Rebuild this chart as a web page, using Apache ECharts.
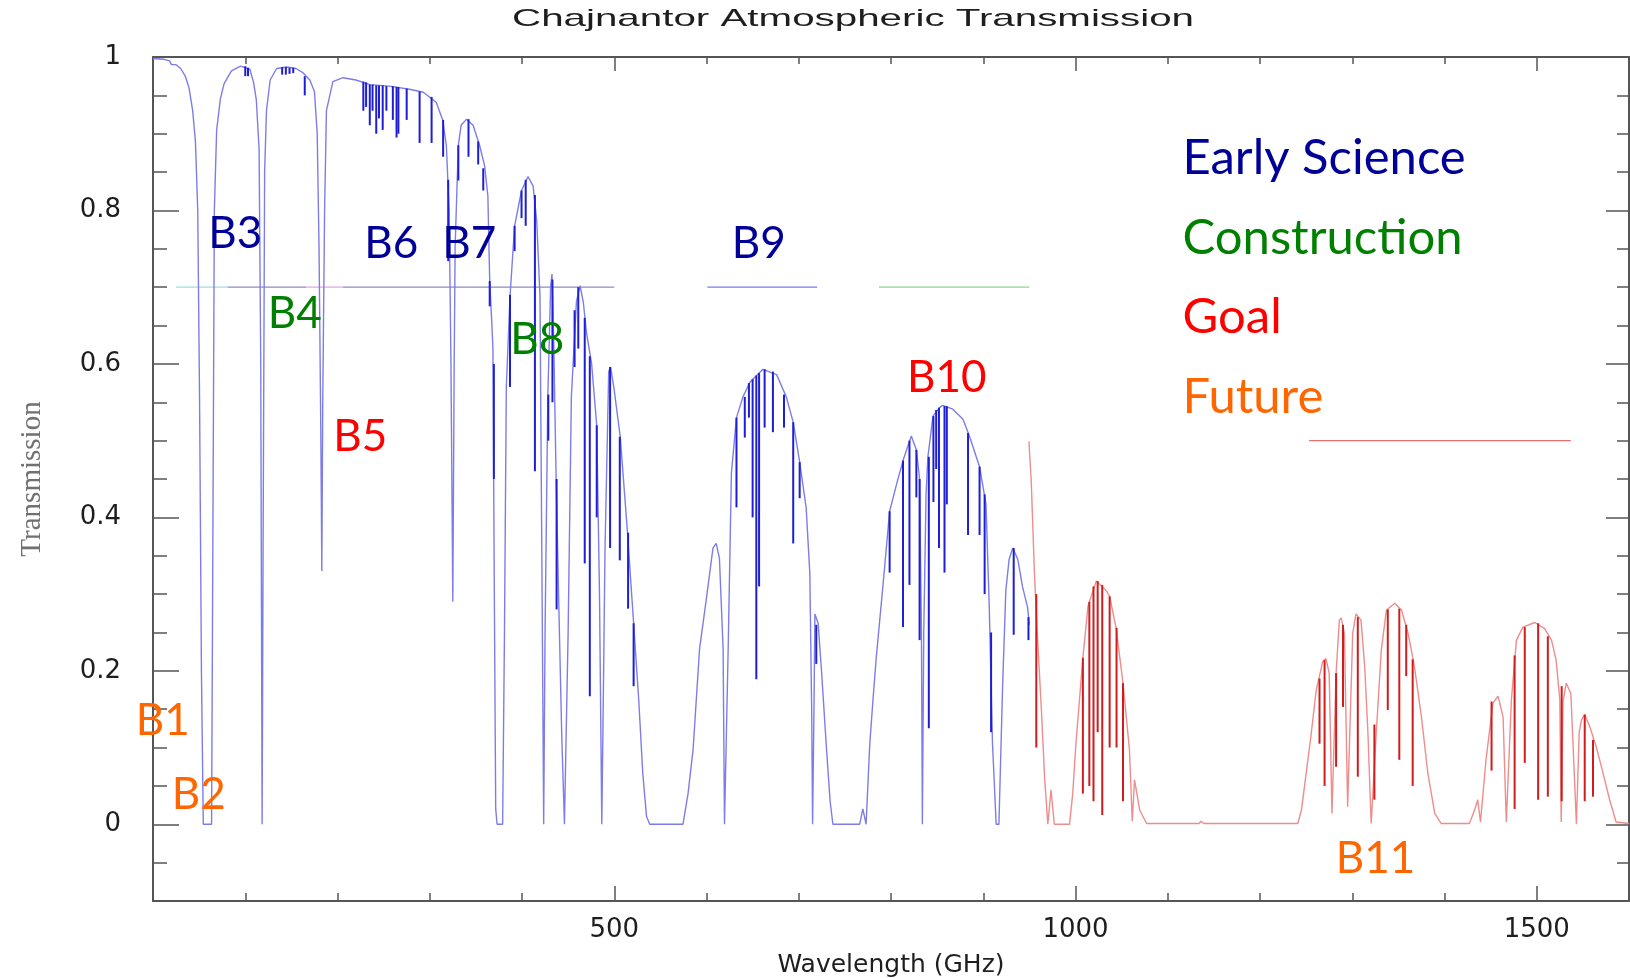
<!DOCTYPE html>
<html>
<head>
<meta charset="utf-8">
<script src="https://cdn.jsdelivr.net/npm/echarts@6/dist/echarts.min.js"></script>
<style>
html,body{margin:0;padding:0;background:#fff;}
#chart{width:1630px;height:978px;}
</style>
</head>
<body>
<div id="chart"></div>
<script>
// ---------- tick labels ----------
const xTickValues = [500, 1000, 1500];
const yTickValues = [0, 0.2, 0.4, 0.6, 0.8, 1];

// ---------- transmission envelope, 0-950 GHz (blue) ----------
const blueFreq = [0,12,18,20,25,30,35,39,43,46,48.5,50.5,52.5,54.5,63.5,65,66.5,69,73,77,85,95,105,109,112,115,116.8,118.3,119.3,121,123,127,134,145,155,162,170,175,178,180,182,183,184,186,188,195,206,220,235,256,278,293,307,314,318,321,323,325,326.5,327.5,331,334,340,347,354,359.5,363,365,367,368.5,370,371.5,373,379,381,383,387,392,399.5,406.5,412,416,419.5,421.5,423.5,425,428,431,432.5,434.5,437,440,443,446,448,450,453.5,459,463,466.5,470,475.5,481,484,486.5,488,490,494,496,499.5,506.5,514,521,526.5,531,535,538.5,574.5,580,585.5,592.5,600,607,610.5,614,618,619.5,621,623.5,627,632.5,639.5,647,661,676,686.5,694,701,708,712,714,715,716.5,717.5,721,724.5,730,734,737,766,769.5,773,775,777,780.5,784,791.5,798.5,806,813,822,827.5,831,833,834,835.5,838,840,845.5,852.5,856,867,878,885,896,903,906.5,910,914,917,921,924.5,928,932,937.5,942.5,948,950];
const blueTrans = [0.998,0.997,0.995,0.99,0.99,0.985,0.975,0.96,0.93,0.89,0.80,0.55,0.2,0,0,0.40,0.80,0.905,0.945,0.965,0.982,0.988,0.984,0.967,0.944,0.88,0.60,0,0.35,0.85,0.93,0.97,0.985,0.987,0.985,0.98,0.97,0.955,0.90,0.75,0.50,0.33,0.55,0.80,0.93,0.968,0.973,0.97,0.964,0.962,0.958,0.954,0.941,0.918,0.885,0.80,0.60,0.29,0.60,0.753,0.885,0.911,0.919,0.911,0.885,0.858,0.819,0.708,0.66,0.62,0.30,0.02,0,0,0.25,0.57,0.688,0.78,0.826,0.844,0.832,0.786,0.688,0.35,0,0.25,0.557,0.70,0.717,0.622,0.45,0.28,0.12,0,0,0.25,0.557,0.681,0.702,0.68,0.64,0.60,0.52,0.30,0,0.15,0.36,0.59,0.596,0.57,0.505,0.386,0.262,0.163,0.065,0.01,0,0,0.04,0.098,0.229,0.295,0.36,0.366,0.347,0.229,0,0,0.229,0.458,0.53,0.557,0.576,0.593,0.586,0.557,0.524,0.472,0.413,0.327,0.15,0,0.15,0.274,0.262,0.203,0.10,0.03,0,0,0.02,0,0,0.105,0.163,0.217,0.314,0.408,0.443,0.474,0.506,0.488,0.45,0.25,0,0.25,0.43,0.479,0.532,0.543,0.546,0.541,0.528,0.506,0.466,0.417,0.284,0.106,0,0,0.181,0.305,0.345,0.36,0.345,0.31,0.283,0.26];

// ---------- transmission envelope, 950-1600 GHz (red) ----------
const redFreq = [949.5,952,955.5,959,963,966.5,970,973.5,977,993.5,997,1000.5,1008,1013.5,1022.5,1033,1037,1044,1051.5,1058.5,1061.5,1064,1069.5,1077,1134,1136,1139,1241,1245,1250,1255.5,1261,1268,1271.5,1275,1278,1282.5,1286,1288,1291.5,1295,1300.5,1304,1309.5,1313.5,1317,1320.5,1326,1331.5,1337,1346,1353.5,1360.5,1367.5,1375,1382,1389.5,1396.5,1427,1433,1436,1439,1445,1452.5,1458,1463.5,1467,1472.5,1478,1485,1498,1508.5,1516,1521,1525,1526.5,1528.5,1532,1537,1543,1546,1548.5,1552,1557.5,1564.5,1572,1579,1586,1600];
const redTrans = [0.499,0.448,0.327,0.239,0.15,0.061,0,0.045,0,0,0.04,0.106,0.217,0.284,0.317,0.305,0.297,0.256,0.184,0.097,0.004,0.058,0.019,0.001,0.001,0.004,0.001,0.001,0.019,0.066,0.118,0.175,0.212,0.216,0.197,0.014,0.197,0.266,0.269,0.249,0.023,0.249,0.274,0.266,0.205,0.119,0.001,0.119,0.227,0.279,0.288,0.279,0.249,0.205,0.14,0.066,0.014,0.001,0.001,0.02,0.032,0.003,0.084,0.158,0.167,0.14,0.003,0.162,0.24,0.257,0.263,0.255,0.24,0.214,0.162,0.003,0.16,0.184,0.17,0,0.12,0.136,0.143,0.127,0.101,0.066,0.032,0.003,0.001];

// ---------- narrow absorption lines (frequency, top, bottom) ----------
const blueLineFreq = [100,103,140,144,148,152,164.5,228,231,235,238,242,245,249,253,260,264,266,275,289,302,314.5,320,331,342,352.5,358,365,369.5,387,392,399.5,404,414,428.5,433,437.5,457,461,468,473.5,481,495.5,506,515,521,632.5,641.5,646,650,654,657,663,672,684,694,701,719,798.5,813,820,827.5,831,841,846,849,852,858,860.5,883.5,896,901.5,908.5,933,949];
const blueLineTop = [0.988,0.986,0.987,0.987,0.986,0.986,0.975,0.968,0.967,0.964,0.964,0.963,0.963,0.963,0.962,0.962,0.961,0.961,0.959,0.955,0.948,0.918,0.84,0.885,0.919,0.89,0.855,0.708,0.60,0.69,0.78,0.826,0.84,0.82,0.56,0.71,0.45,0.67,0.70,0.66,0.61,0.52,0.596,0.505,0.38,0.262,0.53,0.557,0.575,0.58,0.585,0.588,0.593,0.59,0.56,0.524,0.472,0.26,0.408,0.474,0.50,0.488,0.45,0.479,0.532,0.54,0.543,0.545,0.545,0.51,0.466,0.43,0.25,0.36,0.27];
const blueLineBottom = [0.975,0.975,0.977,0.977,0.978,0.979,0.95,0.93,0.935,0.911,0.93,0.90,0.92,0.905,0.93,0.918,0.895,0.90,0.918,0.888,0.888,0.87,0.734,0.839,0.87,0.86,0.826,0.675,0.45,0.57,0.747,0.79,0.78,0.46,0.50,0.55,0.28,0.596,0.62,0.34,0.167,0.40,0.36,0.344,0.281,0.18,0.413,0.504,0.53,0.40,0.189,0.31,0.517,0.511,0.517,0.366,0.425,0.209,0.328,0.257,0.312,0.426,0.24,0.125,0.42,0.463,0.36,0.328,0.417,0.377,0.377,0.30,0.12,0.247,0.24];

const redLineFreq = [957.5,1008,1015,1019.5,1024,1029,1037,1044.5,1051.5,1264.5,1270,1282.5,1290,1306,1324,1338.5,1351,1358.5,1365.5,1451,1476,1487,1501.5,1512,1527,1552,1561];
const redLineTop = [0.30,0.217,0.29,0.31,0.317,0.312,0.297,0.256,0.184,0.19,0.214,0.197,0.26,0.27,0.13,0.28,0.281,0.26,0.215,0.16,0.22,0.257,0.262,0.245,0.18,0.143,0.11];
const redLineBottom = [0.10,0.04,0.05,0.03,0.12,0.012,0.10,0.10,0.03,0.105,0.05,0.075,0.153,0.062,0.032,0.149,0.084,0.193,0.05,0.07,0.02,0.08,0.032,0.036,0.03,0.03,0.036];

// ---------- receiver band coverage markers ----------
const bandSegStart = [25, 81, 166, 206, 601, 787, 1253];
const bandSegEnd   = [81, 166, 206, 500, 720, 950, 1537];
const bandSegLevel = [0.7, 0.7, 0.7, 0.7, 0.7, 0.7, 0.5];

// ---------- band labels and status ----------
const statusText = ['Early Science', 'Construction', 'Goal', 'Future'];
const bandLabelText = ['B1','B2','B3','B4','B5','B6','B7','B8','B9','B10','B11'];
const bandLabelStatus = [3,3,0,1,2,0,0,1,0,2,3];
const bandLabelFreq = [10.6, 49.6, 89.2, 153.7, 224.7, 258.3, 342.8, 416.5, 656.6, 860.4, 1325.3];
const bandLabelTrans = [0.135, 0.038, 0.770, 0.665, 0.505, 0.757, 0.757, 0.631, 0.757, 0.582, -0.045];
const statusFreq = [1116, 1116, 1116, 1116];
const statusTrans = [0.868, 0.764, 0.661, 0.557];

// ---------- styles ----------
const statusColor = ['#000099', '#008000', '#ff0000', '#ff6600'];
const bandSegColor = ['#9fe0e0', '#8c8cc0', '#e6a6e6', '#8c8cc0', '#7a7aee', '#86dc86', '#e07474'];
const axisColor = '#555';

const chart = echarts.init(document.getElementById('chart'), null, {renderer: 'canvas'});

function zip2(a, b) { return a.map((v, i) => [v, b[i]]); }
function zip3(a, b, c) { return a.map((v, i) => [v, b[i], c[i]]); }

function lineSeg(color, width) {
  return function (params, api) {
    const p1 = api.coord([api.value(0), api.value(1)]);
    const p2 = api.coord([api.value(0), api.value(2)]);
    return {type: 'line', shape: {x1: p1[0], y1: p1[1], x2: p2[0], y2: p2[1]},
            style: {stroke: color, lineWidth: width}};
  };
}

const xBase = {type: 'value', min: 0, max: 1600, splitLine: {show: false}};
const yBase = {type: 'value', min: -0.1, max: 1, splitLine: {show: false}};

const option = {
  backgroundColor: '#ffffff',
  animation: false,
  grid: {left: 153, right: 1, top: 57, bottom: 77, containLabel: false, outerBoundsMode: 'none'},
  graphic: [{
    type: 'text', x: 853, y: 19, scaleX: 1.68,
    style: {text: 'Chajnantor Atmospheric Transmission', fontSize: 24, fontFamily: 'Liberation Sans',
            fill: '#1e1e1e', textAlign: 'center', textVerticalAlign: 'middle', align: 'center', verticalAlign: 'middle'}
  }],
  xAxis: [
    Object.assign({}, xBase, {
      position: 'bottom',
      name: 'Wavelength (GHz)', nameLocation: 'middle', nameGap: 52,
      nameTextStyle: {fontSize: 25, fontFamily: 'DejaVu Sans', color: '#1e1e1e'},
      axisLine: {show: true, onZero: false, lineStyle: {color: axisColor, width: 2}},
      axisTick: {show: true, inside: true, length: 15, customValues: xTickValues, lineStyle: {color: axisColor, width: 1.5}},
      axisLabel: {show: true, customValues: xTickValues, margin: 16, fontSize: 26, fontFamily: 'DejaVu Sans', color: '#1e1e1e',
                  formatter: v => String(Math.round(v))}
    }),
    Object.assign({}, xBase, {
      position: 'bottom', interval: 100,
      axisLine: {show: false, onZero: false},
      axisTick: {show: true, inside: true, length: 8, lineStyle: {color: axisColor, width: 1.5}},
      axisLabel: {show: false}
    }),
    Object.assign({}, xBase, {
      position: 'top',
      axisLine: {show: true, onZero: false, lineStyle: {color: axisColor, width: 2}},
      axisTick: {show: true, inside: true, length: 14, customValues: xTickValues, lineStyle: {color: axisColor, width: 1.5}},
      axisLabel: {show: false}
    }),
    Object.assign({}, xBase, {
      position: 'top', interval: 100,
      axisLine: {show: false, onZero: false},
      axisTick: {show: true, inside: true, length: 7, lineStyle: {color: axisColor, width: 1.5}},
      axisLabel: {show: false}
    })
  ],
  yAxis: [
    Object.assign({}, yBase, {
      position: 'left',
      name: 'Transmission', nameLocation: 'middle', nameGap: 106, nameRotate: 90,
      nameTextStyle: {fontSize: 29, fontFamily: 'Liberation Serif', color: '#707070'},
      axisLine: {show: true, onZero: false, lineStyle: {color: axisColor, width: 2}},
      axisTick: {show: true, inside: true, length: 26, customValues: yTickValues, lineStyle: {color: axisColor, width: 1.5}},
      axisLabel: {show: true, customValues: yTickValues, margin: 32, fontSize: 26, fontFamily: 'DejaVu Sans', color: '#1e1e1e',
                  formatter: v => String(Math.round(v * 10) / 10)}
    }),
    Object.assign({}, yBase, {
      position: 'left', interval: 0.05,
      axisLine: {show: false, onZero: false},
      axisTick: {show: true, inside: true, length: 14, lineStyle: {color: axisColor, width: 1.5}},
      axisLabel: {show: false}
    }),
    Object.assign({}, yBase, {
      position: 'right',
      axisLine: {show: true, onZero: false, lineStyle: {color: axisColor, width: 2}},
      axisTick: {show: true, inside: true, length: 23, customValues: yTickValues, lineStyle: {color: axisColor, width: 1.5}},
      axisLabel: {show: false}
    }),
    Object.assign({}, yBase, {
      position: 'right', interval: 0.05,
      axisLine: {show: false, onZero: false},
      axisTick: {show: true, inside: true, length: 12, lineStyle: {color: axisColor, width: 1.5}},
      axisLabel: {show: false}
    })
  ],
  series: [
    {
      name: 'Band coverage', type: 'custom', xAxisIndex: 0, yAxisIndex: 0, z: 1,
      data: zip3(bandSegStart, bandSegEnd, bandSegLevel),
      encode: {x: [0, 1], y: 2},
      renderItem: function (params, api) {
        const p1 = api.coord([api.value(0), api.value(2)]);
        const p2 = api.coord([api.value(1), api.value(2)]);
        return {type: 'line', shape: {x1: p1[0], y1: p1[1], x2: p2[0], y2: p2[1]},
                style: {stroke: bandSegColor[params.dataIndex], lineWidth: 1.3}};
      }
    },
    {
      name: 'Transmission (blue)', type: 'line', xAxisIndex: 0, yAxisIndex: 0, z: 3,
      data: zip2(blueFreq, blueTrans), symbol: 'none', smooth: false,
      lineStyle: {color: '#7d7de8', width: 1.4}
    },
    {
      name: 'Transmission (red)', type: 'line', xAxisIndex: 0, yAxisIndex: 0, z: 3,
      data: zip2(redFreq, redTrans), symbol: 'none', smooth: false,
      lineStyle: {color: '#ef8c8c', width: 1.4}
    },
    {
      name: 'Lines (blue)', type: 'custom', xAxisIndex: 0, yAxisIndex: 0, z: 4,
      data: zip3(blueLineFreq, blueLineTop, blueLineBottom),
      encode: {x: 0, y: [1, 2]},
      renderItem: lineSeg('#1e1ed4', 2)
    },
    {
      name: 'Lines (red)', type: 'custom', xAxisIndex: 0, yAxisIndex: 0, z: 4,
      data: zip3(redLineFreq, redLineTop, redLineBottom),
      encode: {x: 0, y: [1, 2]},
      renderItem: lineSeg('#cf1c1c', 2)
    },
    {
      name: 'Band labels', type: 'scatter', xAxisIndex: 0, yAxisIndex: 0, z: 10,
      symbolSize: 0, silent: true, itemStyle: {opacity: 1},
      emphasis: {disabled: true},
      data: bandLabelText.map((t, i) => ({
        value: [bandLabelFreq[i], bandLabelTrans[i]], name: t,
        label: {color: statusColor[bandLabelStatus[i]]}
      })),
      label: {show: true, position: 'inside', formatter: p => p.name, opacity: 1,
              fontSize: 44, fontFamily: 'Lato', fontWeight: 'normal'}
    },
    {
      name: 'Status', type: 'scatter', xAxisIndex: 0, yAxisIndex: 0, z: 10,
      symbolSize: 0, silent: true, itemStyle: {opacity: 1},
      emphasis: {disabled: true},
      data: statusText.map((t, i) => ({
        value: [statusFreq[i], statusTrans[i]], name: t,
        label: {color: statusColor[i]}
      })),
      label: {show: true, position: 'right', distance: 0, formatter: p => p.name, opacity: 1,
              fontSize: 49, fontFamily: 'Lato', fontWeight: 'normal'}
    }
  ]
};
chart.setOption(option);
</script>
</body>
</html>
